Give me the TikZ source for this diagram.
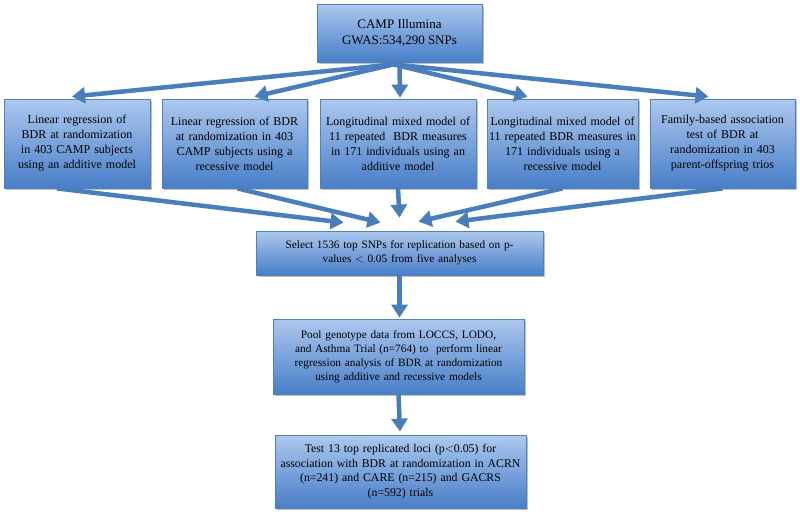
\documentclass[tikz,border=0pt]{standalone}
\usepackage{fontspec}
\setmainfont{Liberation Serif}
\usetikzlibrary{arrows.meta,calc,shadows}
\definecolor{boxtop}{RGB}{172,200,238}
\definecolor{boxbot}{RGB}{72,126,200}
\definecolor{boxline}{RGB}{79,129,189}
\definecolor{arrowc}{RGB}{74,126,187}
\begin{document}
\begin{tikzpicture}[x=1pt,y=-1pt,
  box/.style={draw=boxline,line width=0.8pt,top color=boxtop,bottom color=boxbot,
    align=center,inner sep=2pt,font=\fontsize{12}{15}\selectfont,
    drop shadow={shadow xshift=1.5pt,shadow yshift=-1.5pt,fill=black,opacity=0.25}},
  flow/.style={draw=arrowc,line width=4.5pt,-{Triangle[width=16pt,length=13pt]}}]
\useasboundingbox (0,0) rectangle (800,515);
\node[box,minimum width=165pt,minimum height=58pt,font=\fontsize{13}{16}\selectfont] (top) at (399.5,33) {CAMP Illumina\\GWAS:534,290 SNPs};
\node[box,minimum width=146pt,minimum height=89pt,text width=142pt] (b1) at (77,143.5) {Linear regression of\\BDR at randomization\\in 403 CAMP subjects\\using an additive model};
\node[box,minimum width=145pt,minimum height=89pt,text width=141pt] (b2) at (234.5,143.5) {Linear regression of BDR\\at randomization in 403\\CAMP subjects using a\\recessive model};
\node[box,minimum width=156pt,minimum height=89pt,text width=152pt] (b3) at (398,143.5) {Longitudinal mixed model of\\11 repeated\ \ BDR measures\\in 171 individuals using an\\additive model};
\node[box,minimum width=151pt,minimum height=89pt,text width=147pt] (b4) at (562.5,143.5) {Longitudinal mixed model of\\11 repeated BDR measures in\\171 individuals using a\\recessive model};
\node[box,minimum width=145pt,minimum height=89pt,text width=141pt] (b5) at (722.5,143.5) {Family-based association\\test of BDR at\\randomization in 403\\parent-offspring trios};
\node[box,minimum width=287pt,minimum height=44pt,text width=283pt,font=\fontsize{11.3}{14}\selectfont] (sel) at (399.5,253) {Select 1536 top SNPs for replication based on p-\\values $<$ 0.05 from five analyses};
\node[box,minimum width=251pt,minimum height=75pt,text width=247pt,font=\fontsize{11.3}{14}\selectfont] (pool) at (398.5,356.5) {Pool genotype data from LOCCS, LODO,\\and Asthma Trial (n=764) to\ \ perform linear\\regression analysis of BDR at randomization\\using additive and recessive models};
\node[box,minimum width=249pt,minimum height=73pt,text width=247pt,font=\fontsize{11.8}{14.5}\selectfont] (test) at (400.5,471.5) {Test 13 top replicated loci (p$<$0.05) for\\association with BDR at randomization in ACRN\\(n=241) and CARE (n=215) and GACRS\\(n=592) trials};
% top fan-out
\coordinate (ts) at ($(top.south)+(-6,2)$);
\draw[flow] (ts) -- ($(b1.north)+(-5,-2)$);
\draw[flow] (ts) -- ($(b2.north)+(20,-2)$);
\draw[flow] ($(top.south)+(0,0)$) -- ($(b3.north)+(2,-1)$);
\draw[flow] (ts) -- ($(b4.north)+(-35,-2)$);
\draw[flow] (ts) -- ($(b5.north)+(-14,-2)$);
% fan-in
\draw[flow] ($(b1.south)+(-20,0)$) -- ($(sel.north)+(-56,-8)$);
\draw[flow] ($(b2.south)+(3,0)$) -- ($(sel.north)+(-19,-8)$);
\draw[flow] (b3.south) -- ($(sel.north)+(0,-13)$);
\draw[flow] ($(b4.south)+(0,0)$) -- ($(sel.north)+(19,-9)$);
\draw[flow] ($(b5.south)+(0,0)$) -- ($(sel.north)+(56,-9)$);
% vertical
\draw[flow] (sel.south) -- ($(pool.north)+(1,-1)$);
\draw[flow] (pool.south) -- ($(test.north)+(-0.5,-3)$);
\end{tikzpicture}
\end{document}
